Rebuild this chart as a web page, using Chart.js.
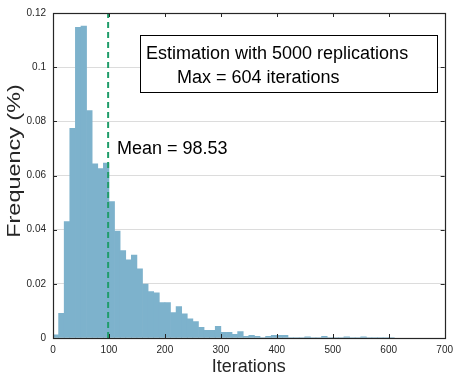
<!DOCTYPE html>
<html lang="en">
<head>
  <meta charset="UTF-8" />
  <title>Iterations histogram</title>
  <script src="https://cdn.jsdelivr.net/npm/chart.js"></script>
  <style>
    html, body { margin: 0; padding: 0; background: #fff; }
    #wrap { width: 459px; height: 376px; }
  </style>
</head>
<body>
  <div id="wrap"><canvas id="histChart"></canvas></div>

  <script>
    // histogram data (bin width 10 iterations)
    const binWidth = 10;
    const binStarts = [0, 10, 20, 30, 40, 50, 60, 70, 80, 90,
      100, 110, 120, 130, 140, 150, 160, 170, 180, 190,
      200, 210, 220, 230, 240, 250, 260, 270, 280, 290,
      300, 310, 320, 330, 340, 350, 360, 370, 380, 390,
      400, 410, 420, 430, 440, 450, 460, 470, 480, 490,
      500, 510, 520, 530, 540, 550, 560, 570, 580, 590, 600];
    const frequency = [0.0012, 0.0091, 0.0430, 0.0774, 0.1147, 0.1152, 0.0840, 0.0643, 0.0626, 0.0646,
      0.0504, 0.0395, 0.0323, 0.0289, 0.0306, 0.0255, 0.0199, 0.0171, 0.0167, 0.0131,
      0.0131, 0.0094, 0.0116, 0.0089, 0.0071, 0.0061, 0.0039, 0.0028, 0.0028, 0.0043,
      0.0021, 0.0021, 0.0014, 0.0024, 0.0006, 0.0010, 0.0006, 0.0002, 0.0006, 0.0010,
      0.0010, 0.0010, 0.0002, 0.0002, 0.0002, 0.0004, 0.0002, 0.0002, 0.0006, 0.0002,
      0.0002, 0.0002, 0.0004, 0.0002, 0.0002, 0.0004, 0.0002, 0.0002, 0.0002, 0.0002, 0.0002];
    const meanValue = 98.53;
    const xTicks = [0, 100, 200, 300, 400, 500, 600, 700];
    const yTicks = [0, 0.02, 0.04, 0.06, 0.08, 0.1, 0.12];
    const boxLines = ["Estimation with 5000 replications", "Max = 604 iterations"];
    const meanLabel = "Mean = " + meanValue;
    const yTitle = "Frequency (%)";

    const FONT = "'Liberation Sans', Arial, Helvetica, sans-serif";
    const AXIS_COLOR = "#262626";

    // box, inner ticks, y title and text annotations (MATLAB look)
    const matlabBox = {
      id: "matlabBox",
      afterDraw(chart) {
        const { ctx, chartArea: a, scales: { x, y } } = chart;
        ctx.save();
        ctx.strokeStyle = AXIS_COLOR;
        ctx.lineWidth = 1;
        ctx.beginPath();
        xTicks.forEach(v => {
          const px = Math.round(x.getPixelForValue(v)) + 0.5;
          ctx.moveTo(px, a.bottom); ctx.lineTo(px, a.bottom - 4);
          ctx.moveTo(px, a.top); ctx.lineTo(px, a.top + 4);
        });
        yTicks.forEach(v => {
          const py = Math.round(y.getPixelForValue(v)) + 0.5;
          ctx.moveTo(a.left, py); ctx.lineTo(a.left + 4, py);
          ctx.moveTo(a.right, py); ctx.lineTo(a.right - 4, py);
        });
        ctx.stroke();
        ctx.lineWidth = 1.2;
        ctx.strokeRect(Math.round(a.left) + 0.5, Math.round(a.top) + 0.5,
          Math.round(a.right - a.left), Math.round(a.bottom - a.top));

        // y title, stretched along its baseline like the exported figure
        ctx.save();
        ctx.translate(15, 161);
        ctx.rotate(-Math.PI / 2);
        ctx.scale(1.3, 1);
        ctx.fillStyle = AXIS_COLOR;
        ctx.font = "18px " + FONT;
        ctx.textAlign = "center";
        ctx.textBaseline = "middle";
        ctx.fillText(yTitle, 0, 0);
        ctx.restore();

        // text box
        ctx.fillStyle = "#fff";
        ctx.fillRect(140, 35, 298, 57);
        ctx.strokeStyle = "#000";
        ctx.lineWidth = 1;
        ctx.strokeRect(140.5, 35.5, 297, 57);
        ctx.fillStyle = "#000";
        ctx.font = "18px " + FONT;
        ctx.textBaseline = "alphabetic";
        ctx.textAlign = "left";
        ctx.fillText(boxLines[0], 146, 59);
        ctx.fillText(boxLines[1], 177, 83);
        ctx.fillText(meanLabel, 117, 154);
        ctx.restore();
      }
    };

    const ctx = document.getElementById("histChart").getContext("2d");
    new Chart(ctx, {
      data: {
        datasets: [
          {
            type: "line",
            data: [{ x: meanValue, y: 0 }, { x: meanValue, y: 0.12 }],
            borderColor: "#1f9d6a",
            borderWidth: 2,
            borderDash: [6, 4],
            pointRadius: 0,
            order: 0
          },
          {
            type: "bar",
            data: binStarts.map((s, i) => ({ x: s + binWidth / 2, y: frequency[i] })),
            backgroundColor: "#7db2cc",
            borderWidth: 0,
            barPercentage: 1,
            categoryPercentage: 1,
            order: 1
          }
        ]
      },
      options: {
        responsive: true,
        maintainAspectRatio: false,
        animation: false,
        layout: { padding: { top: 10, right: 9, left: 0, bottom: 0 } },
        plugins: { legend: { display: false }, tooltip: { enabled: false } },
        scales: {
          x: {
            type: "linear",
            min: 0,
            max: 700,
            offset: false,
            afterBuildTicks: s => { s.ticks = xTicks.map(v => ({ value: v })); },
            afterFit: s => { s.height = 38; },
            grid: { display: false, drawTicks: false },
            border: { display: false },
            ticks: {
              padding: 6,
              maxRotation: 0,
              color: AXIS_COLOR,
              font: { family: FONT, size: 10 },
              callback: v => String(v)
            },
            title: {
              display: true,
              text: "Iterations",
              color: AXIS_COLOR,
              font: { family: FONT, size: 18, lineHeight: 1 },
              padding: { top: 0, bottom: 0 }
            }
          },
          y: {
            min: 0,
            max: 0.12,
            afterBuildTicks: s => { s.ticks = yTicks.map(v => ({ value: v })); },
            afterFit: s => { s.width = 53; },
            grid: { color: "#dcdcdc", lineWidth: 1, drawTicks: false },
            border: { display: false },
            ticks: {
              padding: 7,
              color: AXIS_COLOR,
              font: { family: FONT, size: 10 },
              callback: v => String(v)
            }
          }
        }
      },
      plugins: [matlabBox]
    });
  </script>
</body>
</html>
